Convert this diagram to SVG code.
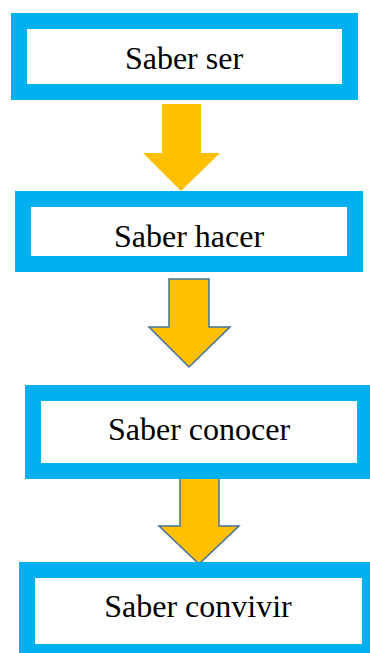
<svg xmlns="http://www.w3.org/2000/svg" width="370" height="653" viewBox="0 0 370 653">
<style>
.box{fill:#fff;stroke:#00B0F0;stroke-width:16}
.lbl{font-family:"Liberation Serif","Times New Roman",serif;font-size:32px;fill:#000;text-anchor:middle}
.arr{fill:#FFC000}
.arr2{fill:#FFC000;stroke:#41719C;stroke-width:1.5;stroke-linejoin:miter}
</style>
<rect width="370" height="653" fill="#fff"/>
<g id="connectors">
<polygon class="arr" points="162,104 201,104 201,153 220,153 181,191 143,153 162,153"/>
<polygon class="arr2" points="169,279 209,279 209,327 230,327 189,367 149,327 169,327"/>
<polygon class="arr2" points="180,477 219,477 219,526 239,526 199,564 159,526 180,526"/>
</g>
<g id="n1"><rect class="box" x="19" y="21" width="331" height="71"/><text class="lbl" x="184" y="69">Saber ser</text></g>
<g id="n2"><rect class="box" x="23" y="199" width="332" height="65"/><text class="lbl" x="189" y="247">Saber hacer</text></g>
<g id="n3"><rect class="box" x="33" y="393" width="332" height="78"/><text class="lbl" x="199" y="440">Saber conocer</text></g>
<g id="n4"><rect class="box" x="27" y="570" width="343" height="82"/><text class="lbl" x="198" y="617">Saber convivir</text></g>
</svg>
